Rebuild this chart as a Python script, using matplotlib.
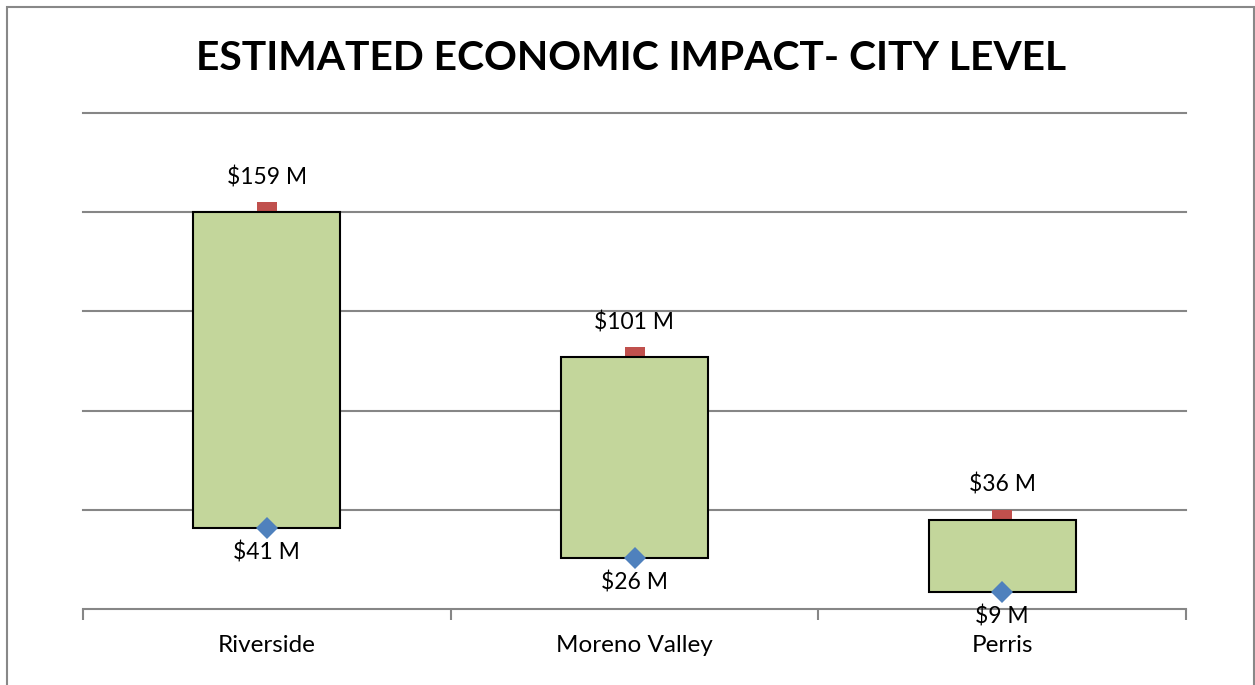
import numpy as np
import matplotlib
matplotlib.use('Agg')
import matplotlib.pyplot as plt
from matplotlib.patches import Rectangle

plt.rcParams['font.family'] = ['Lato', 'DejaVu Sans']

# ---- data ----
cities = ['Riverside', 'Moreno Valley', 'Perris']
high_labels = ['$159 M', '$101 M', '$36 M']
low_labels = ['$41 M', '$26 M', '$9 M']
high_vals = [160, 101.5, 36]     # top of each up/down bar
low_vals = [32.6, 20.5, 6.8]     # bottom of each up/down bar (as drawn)

fig = plt.figure(figsize=(12.55, 6.85), dpi=100)
ax = fig.add_axes([83/1255, 76/685, (1186-83)/1255, (609-113)/685])

x = np.arange(len(cities))
bar_w = 0.40

# red square markers sit behind the bar so only the top half shows
ax.plot(x, high_vals, linestyle='none', marker='s', markersize=15,
        color='#C0504D', markeredgewidth=0, zorder=2)
ax.bar(x, np.array(high_vals) - np.array(low_vals), bottom=low_vals, width=bar_w,
       color='#C3D69B', edgecolor='black', linewidth=1.5, zorder=3)
ax.plot(x, low_vals, linestyle='none', marker='D', markersize=11,
        color='#4F81BD', markeredgewidth=0, zorder=4)

for xi, hv, lv, ht, lt in zip(x, high_vals, low_vals, high_labels, low_labels):
	ax.annotate(ht, (xi, hv), xytext=(0, 25), textcoords='offset points',
	            ha='center', va='center', fontsize=16.5, color='black', zorder=5)
	ax.annotate(lt, (xi, lv), xytext=(0, -17.5), textcoords='offset points',
	            ha='center', va='center', fontsize=16.5, color='black', zorder=5)

ax.set_xlim(-0.5, 2.5)
ax.set_ylim(0, 200)
ax.set_yticks(np.arange(40, 201, 40))
ax.yaxis.grid(True, color='#868686', linewidth=1.5)
for gl in ax.get_ygridlines():
	gl.set_clip_on(False)
ax.set_axisbelow(True)
ax.tick_params(axis='y', left=False, labelleft=False)

ax.set_xticks(x)
ax.set_xticklabels(cities, fontsize=17.5)
ax.set_xticks([-0.5, 0.5, 1.5, 2.5], minor=True)
ax.tick_params(axis='x', which='major', length=0, pad=19)
ax.tick_params(axis='x', which='minor', length=8, width=1.5, color='#868686')

for side in ['top', 'right', 'left']:
	ax.spines[side].set_visible(False)
ax.spines['bottom'].set_color('#868686')
ax.spines['bottom'].set_linewidth(1.5)

fig.text(631/1255, 1 - 59/685, 'ESTIMATED ECONOMIC IMPACT- CITY LEVEL',
         ha='center', va='center', fontsize=29.3, fontweight='bold')

# outer chart border
fig.patches.append(Rectangle((7/1255, -0.05), (1254-7)/1255, 1.05 - 7/685,
                             transform=fig.transFigure, fill=False,
                             edgecolor='#888888', linewidth=1.5))

fig.savefig('out.png', dpi=100)
